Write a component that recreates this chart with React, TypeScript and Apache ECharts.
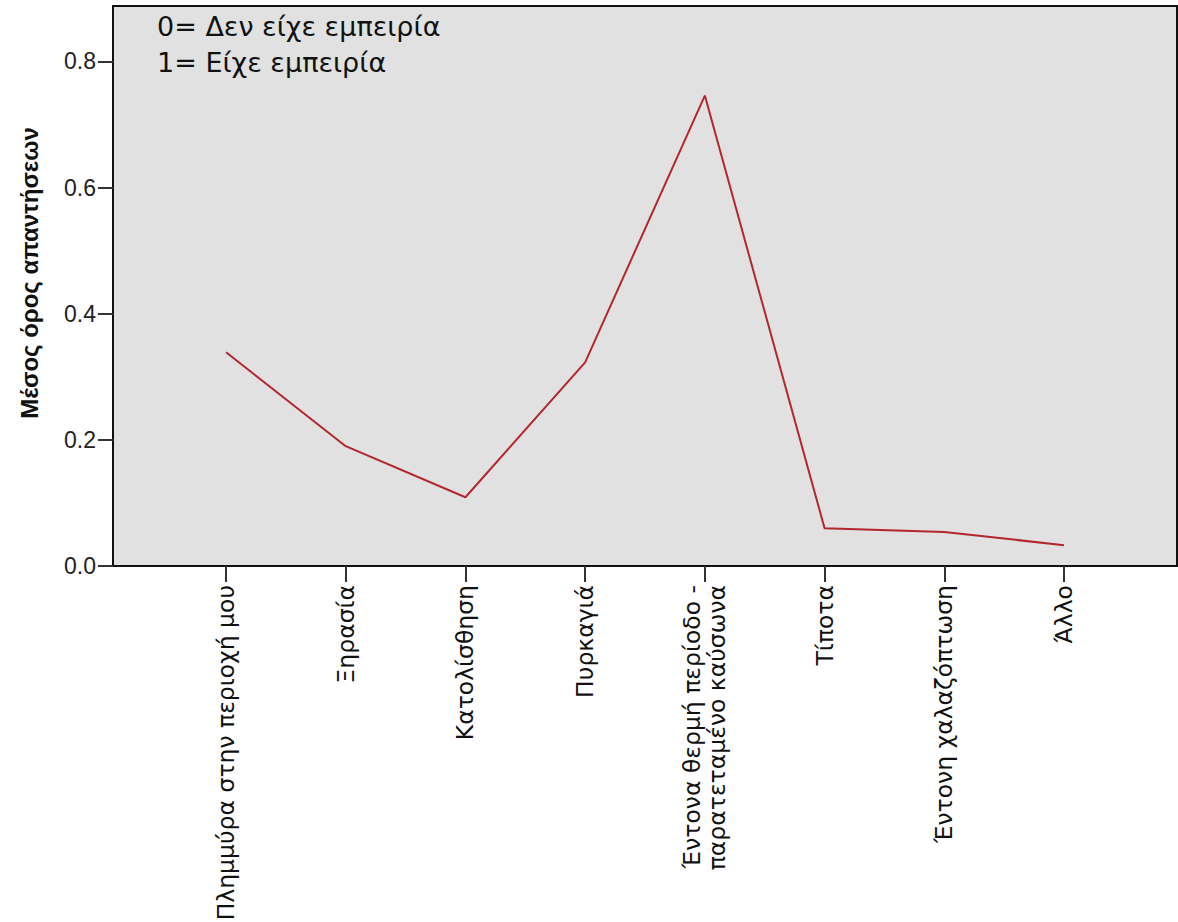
import React, { useEffect, useRef } from "react";
import * as echarts from "echarts";

const categories = [
  "Πλημμύρα στην περιοχή μου",
  "Ξηρασία",
  "Κατολίσθηση",
  "Πυρκαγιά",
  "Έντονα θερμή περίοδο -\nπαρατεταμένο καύσωνα",
  "Τίποτα",
  "Έντονη χαλαζόπτωση",
  "Άλλο",
];
const meanValues = [0.339, 0.19, 0.109, 0.323, 0.746, 0.06, 0.054, 0.033];
const yTicks = [0, 0.2, 0.4, 0.6, 0.8];
const legendLines = ["0= Δεν είχε εμπειρία", "1= Είχε εμπειρία"];
const yTitle = "Μέσος όρος απαντήσεων";

export default function App() {
  const ref = useRef<HTMLDivElement>(null);
  useEffect(() => {
    document.body.style.margin = "0";
    const chart = echarts.init(ref.current!, null, { renderer: "svg" });
    const idx = categories.map((_, i) => i);
    chart.setOption({
      animation: false,
      backgroundColor: "#ffffff",
      grid: {
        left: 113,
        right: 1,
        top: 6,
        bottom: 356,
        containLabel: false,
        outerBoundsMode: "none",
        show: true,
        backgroundColor: "#e1e1e1",
        borderColor: "#111111",
        borderWidth: 2,
      },
      graphic: legendLines.map((t, i) => ({
        type: "text",
        left: 157,
        top: 13 + i * 36,
        style: {
          text: t,
          fontFamily: "DejaVu Sans",
          fontSize: 27,
          fill: "#111111",
        },
      })),
      xAxis: {
        type: "value",
        min: -0.944,
        max: 7.944,
        splitLine: { show: false },
        axisLine: { show: true, onZero: false, lineStyle: { color: "#111111", width: 2 } },
        axisTick: {
          show: true,
          customValues: idx,
          length: 16,
          lineStyle: { color: "#333333", width: 2 },
        },
        axisLabel: {
          customValues: idx,
          rotate: 90,
          margin: 19,
          fontFamily: "DejaVu Sans",
          fontSize: 23.5,
          lineHeight: 25,
          color: "#111111",
          formatter: (v: number) => categories[Math.round(v)] ?? "",
        },
      },
      yAxis: {
        type: "value",
        min: 0,
        max: 0.888,
        interval: 0.2,
        splitLine: { show: false },
        axisLine: { show: true, onZero: false, lineStyle: { color: "#111111", width: 2 } },
        axisTick: {
          show: true,
          customValues: yTicks,
          length: 15,
          lineStyle: { color: "#333333", width: 2 },
        },
        axisLabel: {
          customValues: yTicks,
          margin: 17,
          fontFamily: "Liberation Sans",
          fontSize: 23,
          color: "#222222",
          formatter: (v: number) => v.toFixed(1),
        },
        name: yTitle,
        nameLocation: "middle",
        nameRotate: 90,
        nameGap: 72,
        nameTextStyle: {
          fontFamily: "Liberation Sans",
          fontWeight: "bold",
          fontSize: 24,
          color: "#111111",
          padding: [0, 0, 0, 26],
        },
      },
      series: [
        {
          type: "line",
          data: meanValues.map((v, i) => [i, v]),
          symbol: "none",
          lineStyle: { color: "#b3262e", width: 2 },
        },
      ],
    });
    return () => chart.dispose();
  }, []);
  return <div ref={ref} style={{ width: 1178, height: 922 }} />;
}
